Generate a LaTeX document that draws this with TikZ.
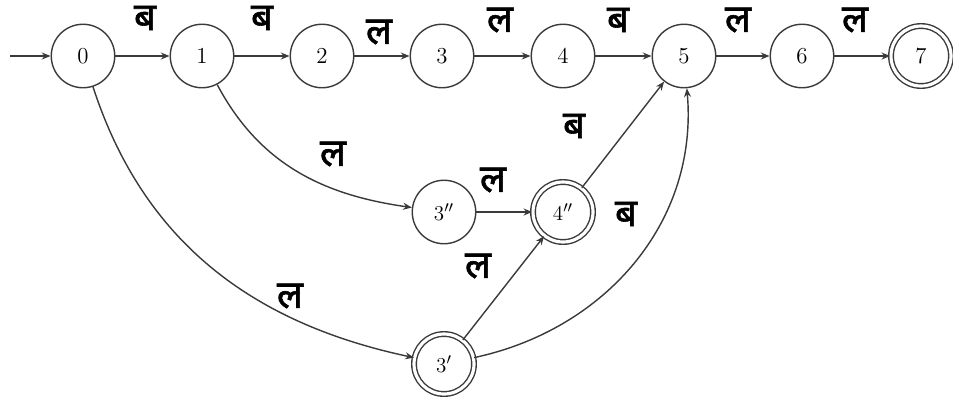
\documentclass[tikz,border=0pt]{standalone}
\usepackage{fontspec}
\newfontfamily\devfont[Script=Devanagari, FakeBold=1.6]{Noto Sans}
\usetikzlibrary{arrows.meta}
\definecolor{edge}{HTML}{3A3A3A}
\tikzset{
  state/.style={circle, draw=edge, line width=0.8pt, minimum size=1.27cm, inner sep=0pt,
    font=\fontsize{13}{15}\selectfont},
  accept/.style={state, double=white, double distance=1.8pt, minimum size=1.2cm},
  trans/.style={draw=edge, line width=0.8pt, -{Stealth[length=5pt,width=4pt]}},
  lbl/.style={font=\devfont\fontsize{22}{24}\selectfont, inner sep=0pt}
}
\begin{document}
\begin{tikzpicture}[x=0.02cm, y=-0.02cm]
\useasboundingbox (0,0) rectangle (953,397);
% states along the main chain
\node[state]  (n0) at (83,56)  {0};
\node[state]  (n1) at (202,56) {1};
\node[state]  (n2) at (322,56) {2};
\node[state]  (n3) at (442,56) {3};
\node[state]  (n4) at (563,56) {4};
\node[state]  (n5) at (684,56) {5};
\node[state]  (n6) at (802,56) {6};
\node[accept] (n7) at (921,56) {7};
% side branches
\node[state]  (n3b) at (444,212) {$3''$};
\node[accept] (n4b) at (563,212) {$4''$};
\node[accept] (n3a) at (444,364) {$3'$};
% start arrow
\coordinate (start) at (10,56);
\draw[trans] (start) -- (n0);
% main chain transitions
\draw[trans] (n0) -- (n1);
\draw[trans] (n1) -- (n2);
\draw[trans] (n2) -- (n3);
\draw[trans] (n3) -- (n4);
\draw[trans] (n4) -- (n5);
\draw[trans] (n5) -- (n6);
\draw[trans] (n6) -- (n7);
\node[lbl] (l01) at (145,18) {ब};
\node[lbl] (l12) at (262,18) {ब};
\node[lbl] (l23) at (379,32) {ल};
\node[lbl] (l34) at (500,20) {ल};
\node[lbl] (l45) at (618,20) {ब};
\node[lbl] (l56) at (738,20) {ल};
\node[lbl] (l67) at (855,20) {ल};
% branch transitions
\draw[trans] (n1) to[out=-62, in=172] (n3b);
\draw[trans] (n3b) -- (n4b);
\draw[trans] (n4b) -- (n5);
\draw[trans] (n0) to[out=-72, in=168] (n3a);
\draw[trans] (n3a) -- (n4b);
\draw[trans] (n3a) to[out=12, in=-85] (n5);
\node[lbl] (l13b) at (333,154) {ल};
\node[lbl] (l3b4b) at (493,180) {ल};
\node[lbl] (l4b5) at (574,126) {ब};
\node[lbl] (l3a5) at (626,214) {ब};
\node[lbl] (l03a) at (290,296) {ल};
\node[lbl] (l3a4b) at (478,266) {ल};
\end{tikzpicture}
\end{document}
